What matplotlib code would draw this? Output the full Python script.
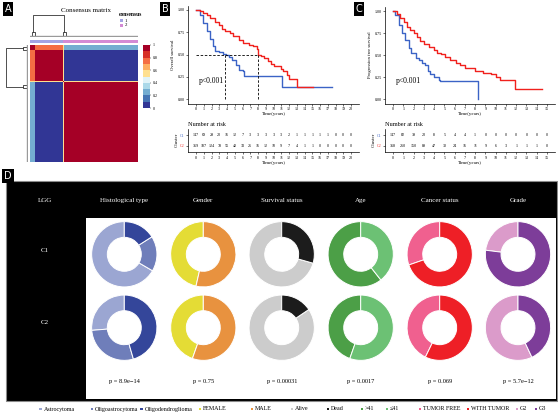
import numpy as np
import matplotlib
matplotlib.use('Agg')
import matplotlib.pyplot as plt
from matplotlib.colors import ListedColormap
from matplotlib.patches import Rectangle

plt.rcParams['font.family'] = 'Liberation Serif'

W, H = 558, 413

# ---------------- data ----------------
# A: consensus matrix, built from sample groups
grp_sizes = [5, 28, 1, 73]          # C1 subgroup, C1, boundary sample, C2
grp_cluster = [1, 1, 2, 2]
block_vals = np.array([[0.95, 0.75, 0.55, 0.25],
                       [0.75, 1.00, 0.55, 0.00],
                       [0.55, 0.55, 1.00, 0.55],
                       [0.25, 0.00, 0.55, 1.00]])
heat_colors = ['#313695', '#4575b4', '#74add1', '#abd9e9', '#e0f3f8',
               '#fee090', '#fdae61', '#f46d43', '#d73027', '#a50026']
cluster_colors = ['#a3a3e3', '#d48bd4']

# B: overall survival
os_c1_t = [0, 0.5, 0.95, 1.4, 1.8, 2.2, 2.5, 2.9, 3.5, 3.8, 4.2, 4.7, 5.1, 5.5, 6.0, 6.25, 11.1, 17.5]
os_c1_s = [1, 0.94, 0.85, 0.76, 0.67, 0.59, 0.54, 0.53, 0.51, 0.49, 0.47, 0.44, 0.38, 0.33, 0.31, 0.26, 0.13, 0.13]
os_c2_t = [0, 0.5, 0.95, 1.4, 1.8, 2.5, 2.9, 3.3, 3.75, 4.4, 4.8, 5.5, 6.1, 6.8, 7.4, 7.85, 8.0,
           8.4, 8.8, 9.3, 9.7, 10.1, 10.9, 11.2, 11.7, 12.0, 13.0, 15.1]
os_c2_s = [1, 0.99, 0.97, 0.94, 0.91, 0.86, 0.83, 0.79, 0.76, 0.74, 0.71, 0.66, 0.63, 0.61, 0.59, 0.56, 0.50,
           0.48, 0.46, 0.43, 0.39, 0.37, 0.34, 0.31, 0.27, 0.22, 0.13, 0.13]
os_medians = [3.7, 8.0]
os_risk_c1 = [147, 69, 29, 20, 16, 12, 7, 3, 3, 3, 3, 3, 2, 1, 1, 1, 1, 1, 0, 0, 0]
os_risk_c2 = [359, 187, 124, 78, 55, 40, 33, 26, 16, 12, 10, 9, 7, 4, 1, 1, 0, 0, 0, 0, 0]

# C: progression free survival
pfs_c1_t = [0, 0.23, 0.55, 0.88, 1.2, 1.53, 1.75, 2.2, 2.5, 2.8, 3.15, 3.4, 3.6, 4.0, 4.45, 4.6, 8.3]
pfs_c1_s = [1, 0.95, 0.84, 0.75, 0.67, 0.58, 0.52, 0.47, 0.44, 0.41, 0.39, 0.32, 0.28, 0.25, 0.22, 0.20, 0.0]
pfs_c2_t = [0, 0.4, 0.7, 1.04, 1.36, 1.7, 2.0, 2.3, 2.66, 3.05, 3.5, 4.0, 4.3, 4.7, 5.1, 5.6, 6.1, 6.5,
            7.05, 8.0, 8.8, 9.5, 10.0, 10.45, 11.9, 14.5]
pfs_c2_s = [1, 0.97, 0.92, 0.87, 0.82, 0.78, 0.75, 0.71, 0.66, 0.63, 0.59, 0.56, 0.52, 0.51, 0.48, 0.44, 0.41, 0.39,
            0.35, 0.32, 0.30, 0.28, 0.25, 0.22, 0.11, 0.11]
pfs_risk_c1 = [147, 82, 39, 20, 8, 5, 4, 4, 1, 0, 0, 0, 0, 0, 0, 0]
pfs_risk_c2 = [358, 260, 150, 89, 47, 30, 24, 16, 11, 9, 6, 3, 1, 1, 1, 0]

km_blue, km_red = '#3b63c6', '#f0211d'

# D: clinical composition per cluster (percent)
features = ['Histological type', 'Gender', 'Survival status', 'Age', 'Cancer status', 'Grade']
c1_parts = [[66.6, 17.4, 16.0], [46.4, 53.6], [70.6, 29.4], [60.6, 39.4], [30.3, 69.7], [23.0, 77.0]]
c2_parts = [[26.3, 28.2, 45.5], [44.6, 55.4], [84.4, 15.6], [44.6, 55.4], [42.8, 57.2], [57.0, 43.0]]
pvals = ['p = 8.9e\u221214', 'p = 0.75', 'p = 0.00031', 'p = 0.0017', 'p = 0.069', 'p = 5.7e\u221212']
part_labels = [['Astrocytoma', 'Oligoastrocytoma', 'Oligodendroglioma'], ['FEMALE', 'MALE'],
               ['Alive', 'Dead'], ['>41', '\u226441'], ['TUMOR FREE', 'WITH TUMOR'], ['G2', 'G3']]
part_colors = [['#9ba6d2', '#6f7eba', '#34469a'], ['#e4dc35', '#e8923f'], ['#cccccc', '#1c1c1c'],
               ['#4c9f47', '#6cc174'], ['#f0608f', '#ee1f26'], ['#db9bca', '#7d3d99']]


def px(x0, y0, x1, y1):
    return [x0 / W, 1 - y1 / H, (x1 - x0) / W, (y1 - y0) / H]


fig = plt.figure(figsize=(W / 100, H / 100), dpi=100)
bg = fig.add_axes([0, 0, 1, 1], zorder=-5)
bg.set_xlim(0, W)
bg.set_ylim(H, 0)
bg.axis('off')

# panel letters (figure level, drawn above all axes)
for lab, (lx, ly) in zip('ABCD', [(8, 9), (165, 9), (359, 9), (8, 176)]):
    fig.text(lx / W, 1 - ly / H, lab, color='white', family='DejaVu Sans', fontsize=7,
             ha='center', va='center', zorder=10,
             bbox=dict(boxstyle='square,pad=0.2', fc='black', ec='none'))

# ---------------- A ----------------
n = sum(grp_sizes)
gid = np.repeat(np.arange(len(grp_sizes)), grp_sizes)
M = block_vals[gid][:, gid]
cmap = ListedColormap(heat_colors)
axh = fig.add_axes(px(30, 45, 138, 162))
im = axh.imshow(M, cmap=cmap, vmin=0, vmax=1, aspect='auto', interpolation='nearest')
axh.set_xticks([])
axh.set_yticks([])
for s in axh.spines.values():
    s.set_visible(False)

axa = fig.add_axes(px(30, 39.5, 138, 43.5))
axa.imshow(np.array(grp_cluster)[gid][None, :], cmap=ListedColormap(cluster_colors), vmin=1, vmax=2,
           aspect='auto', interpolation='nearest')
axa.axis('off')

cax = fig.add_axes(px(143, 45, 150, 108))
cb = fig.colorbar(im, cax=cax, ticks=[0, 0.2, 0.4, 0.6, 0.8, 1])
cb.ax.set_yticklabels(['0', '0.2', '0.4', '0.6', '0.8', '1'])
cb.ax.tick_params(labelsize=3, length=1, width=0.3, pad=0.8)
cb.outline.set_visible(False)

bg.text(86, 10, 'Consensus matrix', fontsize=5, ha='center', va='center')
bg.text(119, 15, 'consensus', fontsize=4, ha='left', va='center', fontweight='bold')
for i, c in enumerate(cluster_colors):
    bg.add_patch(Rectangle((120, 19 + 4.5 * i), 3, 3, fc=c, ec='none'))
    bg.text(125, 20.5 + 4.5 * i, str(i + 1), fontsize=3.5, va='center')

# dendrograms (branch points at group a centre and at the cluster boundary)
left_pos = grp_sizes[0] / 2
right_pos = sum(grp_sizes[:2]) + 0.5
axd = fig.add_axes(px(30, 12, 138, 37), sharex=axh)
axd.set_ylim(0, 1)
axd.axis('off')
axd.plot([left_pos, left_pos, right_pos, right_pos], [0.2, 0.9, 0.9, 0.2], color='#333333', lw=0.6)
for p in (left_pos, right_pos):
    axd.plot([p - 1.5, p - 1.5, p + 1.5, p + 1.5], [0.05, 0.2, 0.2, 0.05], color='#333333', lw=0.6)
axd.plot([-0.5, n - 0.5], [0.03, 0.03], color='#9a9a9a', lw=1.0)

axl = fig.add_axes(px(4, 45, 28, 162), sharey=axh)
axl.set_xlim(1, 0)
axl.axis('off')
axl.plot([0.2, 0.9, 0.9, 0.2], [left_pos, left_pos, right_pos + 4, right_pos + 4], color='#333333', lw=0.6)
for p in (left_pos, right_pos + 4):
    axl.plot([0.05, 0.2, 0.2, 0.05], [p - 1.5, p - 1.5, p + 1.5, p + 1.5], color='#333333', lw=0.6)
axl.plot([0.03, 0.03], [-0.5, n - 0.5], color='#9a9a9a', lw=1.0)


# ---------------- B / C ----------------
def km_panel(x0, x1, ytop, tmax, curves, risk, ylab, ptxt_xy, medians=None):
    ax = fig.add_axes(px(x0, ytop, x1, 103.5))
    for (t, s), col in zip(curves, [km_blue, km_red]):
        ax.step(t, s, where='post', color=col, lw=1.0)
    if medians is not None:
        ax.plot([0, max(medians)], [0.5, 0.5], ls='--', color='black', lw=0.6, dashes=(3, 2))
        for m in medians:
            ax.plot([m, m], [0, 0.5], ls='--', color='black', lw=0.6, dashes=(3, 2))
    ax.set_xlim(-tmax * 0.05, tmax * 1.05)
    ax.set_ylim(-0.05, 1.05)
    ax.set_xticks(range(tmax + 1))
    ax.set_yticks([0, 0.25, 0.5, 0.75, 1.0])
    ax.set_yticklabels(['0.00', '0.25', '0.50', '0.75', '1.00'])
    ax.tick_params(labelsize=3, length=1.5, width=0.4, pad=1)
    for sp in ('top', 'right'):
        ax.spines[sp].set_visible(False)
    for sp in ('left', 'bottom'):
        ax.spines[sp].set_linewidth(0.5)
    ax.set_xlabel('Time(years)', fontsize=3.5, labelpad=0.8)
    ax.set_ylabel(ylab, fontsize=3.3, labelpad=1.5)
    ax.text(ptxt_xy[0], ptxt_xy[1], 'p<0.001', fontsize=5.5, va='center')

    at = fig.add_axes(px(x0, 128.6, x1, 152.1))
    for row, (vals, col) in enumerate(zip(risk, [km_blue, km_red])):
        for t, v in enumerate(vals):
            at.text(t, row + 1, str(v), fontsize=3, ha='center', va='center')
    at.set_xlim(-tmax * 0.05, tmax * 1.05)
    at.set_ylim(2.6, 0.4)
    at.set_xticks(range(tmax + 1))
    at.set_yticks([1, 2])
    at.set_yticklabels(['C1', 'C2'])
    for lbl, col in zip(at.get_yticklabels(), [km_blue, km_red]):
        lbl.set_color(col)
    at.tick_params(labelsize=3, length=1.5, width=0.4, pad=1)
    for sp in ('top', 'right'):
        at.spines[sp].set_visible(False)
    for sp in ('left', 'bottom'):
        at.spines[sp].set_linewidth(0.5)
    at.set_xlabel('Time(years)', fontsize=3.5, labelpad=0.8)
    at.set_ylabel('Cluster', fontsize=3.5, labelpad=1)
    bg.text(x0, 124, 'Number at risk', fontsize=4.5, va='center')


km_panel(188.3, 358.8, 5.5, 20, [(os_c1_t, os_c1_s), (os_c2_t, os_c2_s)],
         [os_risk_c1, os_risk_c2], 'Overall survival', (0.3, 0.2), medians=os_medians)
km_panel(385.3, 554.7, 6.6, 15, [(pfs_c1_t, pfs_c1_s), (pfs_c2_t, pfs_c2_s)],
         [pfs_risk_c1, pfs_risk_c2], 'Progression free survival', (0.32, 0.2))

for lx in (316, 513):
    bg.text(lx, 18, 'Cluster', fontsize=3.6, va='center')
    for i, (col, lab) in enumerate(zip([km_blue, km_red], ['C1', 'C2'])):
        yy = 24.7 + 6.2 * i
        bg.plot([lx + 1, lx + 9], [yy, yy], color=col, lw=1.0)
        bg.text(lx + 11, yy, lab, fontsize=3.6, va='center')

# ---------------- D ----------------
bg.add_patch(Rectangle((6, 181), 551, 220, fc='black', ec='#8a8a8a', lw=0.8))
bg.add_patch(Rectangle((86, 218), 469.5, 181, fc='white', ec='none'))

col_x = [124.3, 203.3, 281.7, 360.7, 439.7, 518.0]
row_y = [254.3, 327.7]
R = 33.3

bg.text(45, 201, 'LGG', color='white', fontsize=5, ha='center', va='center')
bg.text(45, 250, 'C1', color='white', fontsize=5, ha='center', va='center')
bg.text(45, 323, 'C2', color='white', fontsize=5, ha='center', va='center')
for cx, feat, pv in zip(col_x, features, pvals):
    bg.text(cx, 200.5, feat, color='white', fontsize=5, ha='center', va='center')
    bg.text(cx, 382, pv, fontsize=4.6, ha='center', va='center')

for ry, parts in zip(row_y, [c1_parts, c2_parts]):
    for cx, vals, cols in zip(col_x, parts, part_colors):
        ad = fig.add_axes(px(cx - R, ry - R, cx + R, ry + R))
        ad.pie(vals, colors=cols, startangle=90, counterclock=True, radius=1,
               wedgeprops=dict(width=0.48, edgecolor='white', linewidth=0.7))
        ad.set_xlim(-1.02, 1.02)
        ad.set_ylim(-1.02, 1.02)
        ad.set_aspect('equal')
        ad.axis('off')

# legend row
leg_x = [40.7, 92, 141.5, 200, 252, 292, 328, 362, 387, 420, 468, 517, 536]
leg_items = [(l, c) for labs, cols in zip(part_labels, part_colors) for l, c in zip(labs, cols)]
for lx, (lab, col) in zip(leg_x, leg_items):
    bg.add_patch(Rectangle((lx - 1.3, 407.7), 2.6, 2.6, fc=col, ec='none'))
    bg.text(lx + 2.8, 409, lab, fontsize=4.3, va='center')

fig.savefig('out.png', dpi=100)
